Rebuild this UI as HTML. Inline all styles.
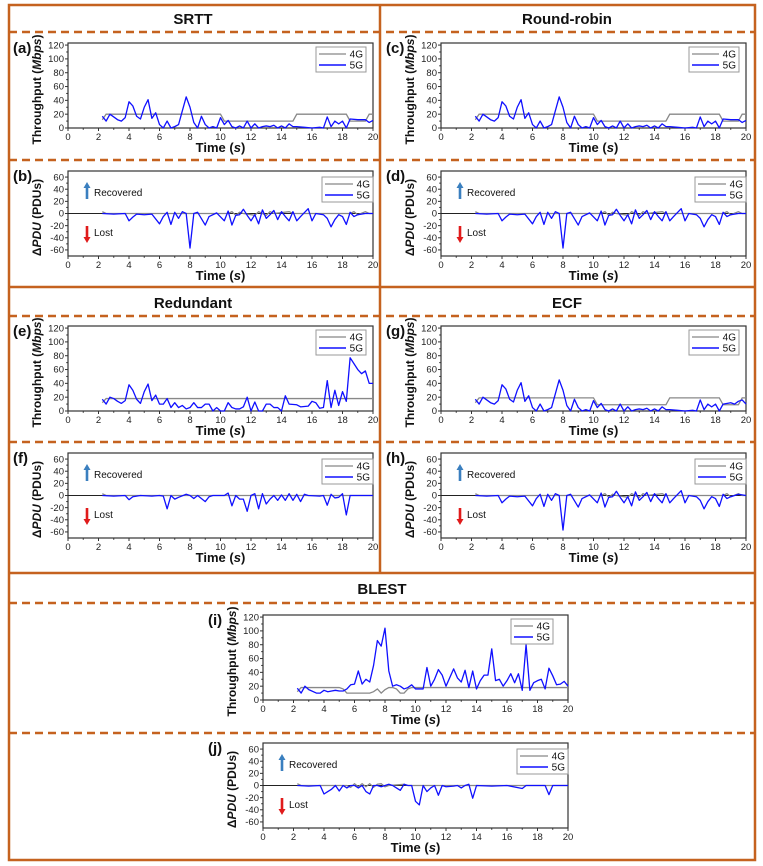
<!DOCTYPE html>
<html><head><meta charset="utf-8">
<style>
html,body{margin:0;padding:0;background:#fff;}
svg{display:block;font-family:"Liberation Sans",Arial,sans-serif;}
</style></head>
<body>
<svg id="fig" width="763" height="866" viewBox="0 0 763 866">
  <g id="frame" stroke="#c5621f" fill="none">
    <rect x="9" y="5" width="746" height="855" stroke-width="2.5"/>
    <line x1="380" y1="5" x2="380" y2="573" stroke-width="2.5"/>
    <line x1="9" y1="287" x2="755" y2="287" stroke-width="2.5"/>
    <line x1="9" y1="573" x2="755" y2="573" stroke-width="2.5"/>
    <g stroke-dasharray="8,5" stroke-width="2.5">
      <line x1="9" y1="32" x2="755" y2="32"/>
      <line x1="9" y1="160" x2="755" y2="160"/>
      <line x1="9" y1="316" x2="755" y2="316"/>
      <line x1="9" y1="442" x2="755" y2="442"/>
      <line x1="9" y1="603" x2="755" y2="603"/>
      <line x1="9" y1="733" x2="755" y2="733"/>
    </g>
  </g>
  <g font-weight="bold" font-size="15" text-anchor="middle" fill="#111">
    <text x="193" y="24">SRTT</text>
    <text x="567" y="24">Round-robin</text>
    <text x="193" y="308">Redundant</text>
    <text x="567" y="308">ECF</text>
    <text x="382" y="594">BLEST</text>
  </g>
</svg>
<script>
// ---- data (time in s, values) ----
const aT5=[2.25,2.5,2.75,3,3.25,3.5,3.75,4,4.25,4.5,4.75,5,5.25,5.5,5.75,6,6.25,6.5,6.75,7,7.25,7.5,7.75,8,8.25,8.5,8.75,9,9.25,9.5,9.75,10,10.25,10.5,10.75,11,11.25,11.5,11.75,12,12.25,12.5,12.75,13,13.25,13.5,13.75,14,14.25,14.5,14.75,15,15.5,16,16.5,16.75,17,17.25,17.5,17.75,18,18.25,18.5,19,19.5,19.75,20];
const aV5=[17,10,20,16,12,10,15,38,32,17,13,30,41,14,22,5,0,10,0,2,5,25,45,30,8,0,17,5,0,2,0,15,5,11,2,0,3,0,10,0,6,0,2,3,2,4,0,3,0,6,2,2,1,0,1,0,16,2,10,6,10,0,13,12,12,8,11];
const aT4=[2.25,2.5,10,10.25,14.75,15,18.25,18.5,19.5,19.75,20];
const aV4=[12,20,20,10,10,20,20,10,10,20,20];
const bT5=[2.25,3,3.75,4,4.25,4.5,5,5.5,6,6.25,6.5,6.75,7,7.25,7.5,7.75,8,8.25,8.5,9,9.25,9.75,10.25,10.5,10.75,11,11.25,11.5,11.75,12,12.25,12.5,12.75,13,13.25,13.5,13.75,14,14.25,14.5,14.75,15,15.25,15.75,16,16.25,16.75,17,17.25,17.5,17.75,18,18.25,18.5,18.75,19,19.5,20];
const bV5=[0,-1,0,-12,-6,-1,-2,-1,-17,-5,2,-18,2,-8,3,0,-57,0,2,-19,-5,1,-12,4,-19,-3,-2,7,-3,-12,-2,-17,6,-8,-2,5,-10,3,-5,-12,3,-12,-5,8,-12,0,-2,-8,-22,-10,-2,-5,-18,2,-5,-2,0,0];
const bT4=[2.25,2.5,10.5,10.75,11,11.25,11.5,12.25,12.5,12.75,13,13.25,13.5,14.5,14.75,18.5,18.75,19,19.5,19.75,20];
const bV4=[3,0,0,3,-3,2,0,-3,3,0,-3,3,0,3,0,0,3,-2,3,0,0];
const cT5=aT5.slice();
const cV5=[17,10,20,16,12,10,15,38,32,17,13,30,41,14,22,5,0,10,0,2,5,25,45,30,8,0,17,5,0,2,0,15,5,11,2,0,3,0,10,0,6,0,2,3,2,4,0,3,0,6,2,2,1,0,1,0,16,2,10,6,10,0,13,12,12,8,11];
const cT4=aT4.slice();
const cV4=[12,20,20,10,10,20,20,10,10,20,20];
const dT5=bT5.slice();
const dV5=[0,-1,0,-12,-6,-1,-2,-1,-17,-5,2,-18,2,-8,3,0,-57,0,2,-19,-5,1,-12,4,-19,-3,-2,7,-3,-12,-2,-17,6,-8,-2,5,-10,3,-5,-12,3,-12,-5,8,-12,0,-2,-8,-22,-10,-2,-5,-18,2,-5,-2,0,0];
const dT4=bT4.slice();
const dV4=[3,0,0,3,-3,2,0,-3,3,0,-3,3,0,3,0,0,3,-2,3,0,0];
const eT5=[2.25,2.5,2.75,3,3.25,3.5,3.75,4,4.25,4.5,4.75,5,5.25,5.5,5.75,6,6.25,6.5,6.75,7,7.25,7.5,7.75,8,8.25,8.5,8.75,9,9.25,9.5,9.75,10,10.25,10.5,10.75,11,11.25,11.5,11.75,12,12.25,12.5,12.75,13,13.25,13.5,13.75,14,14.25,14.5,15,15.25,15.75,16,16.25,16.5,16.75,17,17.25,17.5,17.75,18,18.25,18.5,19,19.25,19.5,19.75,20];
const eV5=[17,10,20,18,14,11,15,38,30,17,11,28,39,15,23,10,10,18,5,12,5,8,3,5,12,5,5,10,10,0,5,0,0,12,5,3,3,6,20,0,13,0,0,10,10,5,5,0,22,10,9,6,7,14,12,4,5,44,5,30,8,28,14,77,60,54,58,40,40];
const eT4=[2.25,2.5,20];
const eV4=[12,18,18];
const fT5=[2.25,3,3.75,4,4.25,4.75,5.5,6,6.25,6.5,6.75,7,7.25,7.75,8,8.25,8.5,9,9.25,9.5,10.25,10.5,10.75,11,11.25,11.5,11.75,12,12.25,12.5,12.75,13,13.25,13.5,13.75,14,14.25,14.5,14.75,15,15.25,15.5,15.75,16.5,16.75,17,17.25,17.5,17.75,18,18.25,18.5,20];
const fV5=[0,-1,0,-7,-2,0,-1,0,-1,-22,0,-6,-3,2,0,-5,0,-10,-2,0,0,4,-17,0,-6,-6,-26,0,3,-22,3,-14,-6,0,-8,1,-8,3,-8,2,-10,2,0,-1,0,-16,2,-4,-3,3,-32,0,0];
const fT4=[2.25,2.5,20];
const fV4=[3,0,0];
const gT5=[2.25,2.5,2.75,3,3.25,3.5,3.75,4,4.25,4.5,4.75,5,5.25,5.5,5.75,6,6.25,6.5,6.75,7,7.25,7.5,7.75,8,8.25,8.5,8.75,9,9.25,9.5,9.75,10,10.25,10.5,10.75,11,11.25,11.5,11.75,12,12.25,12.5,12.75,13,13.25,13.5,13.75,14,14.25,14.5,14.75,15,15.5,16,16.5,16.75,17,17.25,17.5,17.75,18,18.25,18.5,19,19.25,19.5,19.75,20];
const gV5=[17,10,20,16,12,10,15,38,32,17,13,30,41,14,22,5,0,10,0,2,5,25,45,30,8,0,17,5,0,2,0,15,5,11,2,0,3,0,10,0,6,0,2,3,2,4,0,3,0,6,2,2,1,0,1,0,16,2,10,6,10,0,10,12,10,14,16,10];
const gT4=[2.25,2.5,10,10.25,14.75,15,18.25,18.5,19.5,19.75,20];
const gV4=[12,19,19,9,9,19,19,9,9,19,19];
const hT5=bT5.slice();
const hV5=[0,-1,0,-12,-6,-1,-2,-1,-17,-5,2,-18,2,-8,3,0,-57,0,2,-19,-5,1,-12,4,-19,-3,-2,7,-3,-12,-2,-17,6,-8,-2,5,-10,3,-5,-12,3,-12,-5,8,-12,0,-2,-8,-22,-10,-2,-5,-18,2,-5,-2,2,0];
const hT4=bT4.slice();
const hV4=[3,0,0,3,-3,2,0,-3,3,0,-3,3,0,3,0,0,3,-2,3,0,0];
const iT5=[2.25,2.5,2.75,3,3.5,3.75,4,4.25,4.5,4.75,5,5.25,5.5,5.75,6,6.25,6.5,6.75,7,7.25,7.5,7.75,8,8.25,8.5,8.75,9,9.25,9.5,9.75,10,10.5,10.75,11,11.25,11.5,11.75,12,12.5,12.75,13,13.25,13.5,13.75,14,14.25,14.5,14.75,15,15.25,15.5,15.75,16,16.25,16.5,16.75,17,17.25,17.5,17.75,18,18.25,18.5,18.75,19,19.25,19.5,19.75,20];
const iV5=[17,10,20,15,10,10,14,12,13,14,13,13,16,22,23,42,23,30,26,50,86,78,104,42,20,22,20,16,18,22,16,16,47,20,30,44,36,20,45,32,26,43,18,42,16,28,36,36,74,28,30,20,28,38,25,38,14,80,14,25,28,30,16,46,35,22,23,27,20];
const iT4=[2.25,2.5,5,5.25,5.5,6,7,7.25,7.5,7.75,8,8.25,8.5,8.75,9,9.25,9.5,9.75,10,20];
const iV4=[12,18,18,16,10,10,10,12,16,10,15,18,18,16,10,10,16,18,18,18];
const jT5=[2.25,3,3.75,4,4.25,4.5,4.75,5,5.25,5.5,5.75,6,6.25,6.5,6.75,7,7.25,7.5,7.75,8,8.25,8.5,8.75,9,9.25,9.5,9.75,10,10.25,10.5,10.75,11,11.25,11.5,11.75,12,12.5,12.75,13,13.25,13.5,13.75,14,15,16,17,17.25,18.5,18.75,19,20];
const jV5=[0,-1,0,-14,-10,-6,0,-9,0,-4,0,0,-4,0,-10,-14,0,0,-2,0,2,0,-4,-8,2,0,0,-26,-32,0,-10,-4,0,-16,0,-2,-1,0,-4,0,2,-21,0,-1,0,-5,0,0,-15,0,0];
const jT4=[2.25,2.5,5.5,5.75,6,6.25,6.5,6.75,7,7.25,7.5,7.75,8,8.25,9.25,9.5,20];
const jV4=[3,0,0,-3,3,-2,3,-2,3,-3,2,3,-2,0,2,0,0];
const xTicks=[0,2,4,6,8,10,12,14,16,18,20];
const thrTicks=[0,20,40,60,80,100,120];
const pduTicks=[-60,-40,-20,0,20,40,60];

const NS='http://www.w3.org/2000/svg';
const svg=document.getElementById('fig');
function mk(tag,attrs,parent){const e=document.createElementNS(NS,tag);for(const k in attrs)e.setAttribute(k,attrs[k]);(parent||svg).appendChild(e);return e;}

function panel(id,x0,y0,kind,t5,v5,t4,v4,lgOff){
  const W=305,H=85;
  const g=mk('g',{});
  
  
  const ymin=kind==='thr'?0:-70, ymax=kind==='thr'?123:70;
  const X=t=>x0+t/20*W;
  const Y=v=>y0+H-(v-ymin)/(ymax-ymin)*H;
  const box=mk('rect',{x:x0,y:y0,width:W,height:H,fill:'none',stroke:'#333','stroke-width':1.2},g);
  
  
  xTicks.forEach(t=>{
    mk('line',{x1:X(t),y1:y0+H,x2:X(t),y2:y0+H+3,stroke:'#333','stroke-width':1},g);
    if(t<20) mk('line',{x1:X(t+1),y1:y0+H,x2:X(t+1),y2:y0+H+1.8,stroke:'#333','stroke-width':1},g);
    const tx=mk('text',{x:X(t),y:y0+H+12,'font-size':9.5,'text-anchor':'middle',fill:'#222'},g);
    tx.textContent=t;
    
    
  });
  const yt=kind==='thr'?thrTicks:pduTicks;
  yt.forEach((v,i)=>{
    mk('line',{x1:x0-3,y1:Y(v),x2:x0,y2:Y(v),stroke:'#333','stroke-width':1},g);
    if(i<yt.length-1) mk('line',{x1:x0-1.8,y1:Y(v+(yt[1]-yt[0])/2),x2:x0,y2:Y(v+(yt[1]-yt[0])/2),stroke:'#333','stroke-width':1},g);
    const ty=mk('text',{x:x0-4,y:Y(v)+3.2,'font-size':9.5,'text-anchor':'end',fill:'#222'},g);
    ty.textContent=v;
    
    
  });
  const xt=mk('text',{x:x0+W/2,y:y0+H+24,'font-size':13,'font-weight':'bold','text-anchor':'middle',fill:'#111'},g);
  xt.innerHTML='Time (<tspan font-style="italic">s</tspan>)';
  
  
  const yx=x0-27, yy=y0+H/2+4;
  const ytl=mk('text',{x:yx,y:yy,'font-size':12,'font-weight':'bold','text-anchor':'middle',fill:'#111',transform:`rotate(-90 ${yx} ${yy})`},g);
  ytl.innerHTML=kind==='thr'?'Throughput (<tspan font-style="italic">Mbps</tspan>)':'Δ<tspan font-style="italic">PDU</tspan> (PDUs)';
  
  
  const lab=mk('text',{x:x0-55,y:y0+10,'font-size':15,'font-weight':'bold',fill:'#111'},g);
  lab.textContent='('+id+')';
  
  
  if(kind==='pdu'){
    const z=mk('line',{x1:x0,y1:Y(0),x2:x0+W,y2:Y(0),stroke:'#222','stroke-width':1},g);
    
    
    const ax=x0+19;
    const up=mk('path',{d:`M${ax-1.3} ${y0+28} L${ax-1.3} ${y0+17} L${ax-3.5} ${y0+17} L${ax} ${y0+11} L${ax+3.5} ${y0+17} L${ax+1.3} ${y0+17} L${ax+1.3} ${y0+28}Z`,fill:'#3a7fbf'},g);
    
    
    const rt=mk('text',{x:ax+7,y:y0+25,'font-size':10,fill:'#111'},g);
    rt.textContent='Recovered';
    
    
    const dn=mk('path',{d:`M${ax-1.3} ${y0+55} L${ax-1.3} ${y0+66} L${ax-3.5} ${y0+66} L${ax} ${y0+72} L${ax+3.5} ${y0+66} L${ax+1.3} ${y0+66} L${ax+1.3} ${y0+55}Z`,fill:'#e01b1b'},g);
    
    
    const lt=mk('text',{x:ax+7,y:y0+65,'font-size':10,fill:'#111'},g);
    lt.textContent='Lost';
    
    
  }
  const p4=mk('polyline',{points:t4.map((t,i)=>X(t)+','+Y(v4[i])).join(' '),fill:'none',stroke:'#888','stroke-width':1.3},g);
  
  
  const p5=mk('polyline',{points:t5.map((t,i)=>X(t)+','+Y(v5[i])).join(' '),fill:'none',stroke:'#1010ff','stroke-width':1.3,'stroke-linejoin':'round'},g);
  
  
  const lw=lgOff[2], ll=lw-20;
  const lx=x0+W-lgOff[0], ly=y0+lgOff[1];
  const lg=mk('g',{},g);
  
  
  mk('rect',{x:lx,y:ly,width:lw,height:25,fill:'#fff',stroke:'#999','stroke-width':1},lg);
  mk('line',{x1:lx+3,y1:ly+7,x2:lx+3+ll-3,y2:ly+7,stroke:'#888','stroke-width':1.3},lg);
  mk('line',{x1:lx+3,y1:ly+18,x2:lx+3+ll-3,y2:ly+18,stroke:'#1010ff','stroke-width':1.5},lg);
  const l1=mk('text',{x:lx+lw-3,y:ly+10.5,'font-size':10,'text-anchor':'end',fill:'#111'},lg);
  l1.textContent='4G';
  
  
  const l2=mk('text',{x:lx+lw-3,y:ly+21.5,'font-size':10,'text-anchor':'end',fill:'#111'},lg);
  l2.textContent='5G';
  
  
}
const LT=[57,4,50], LB=[51,6,51];
panel('a',68,43,'thr',aT5,aV5,aT4,aV4,LT);
panel('b',68,171,'pdu',bT5,bV5,bT4,bV4,LB);
panel('c',441,43,'thr',cT5,cV5,cT4,cV4,LT);
panel('d',441,171,'pdu',dT5,dV5,dT4,dV4,LB);
panel('e',68,326,'thr',eT5,eV5,eT4,eV4,LT);
panel('f',68,453,'pdu',fT5,fV5,fT4,fV4,LB);
panel('g',441,326,'thr',gT5,gV5,gT4,gV4,LT);
panel('h',441,453,'pdu',hT5,hV5,hT4,hV4,LB);
panel('i',263,615,'thr',iT5,iV5,iT4,iV4,[57,4,42]);
panel('j',263,743,'pdu',jT5,jV5,jT4,jV4,LB);
</script>
</body></html>
